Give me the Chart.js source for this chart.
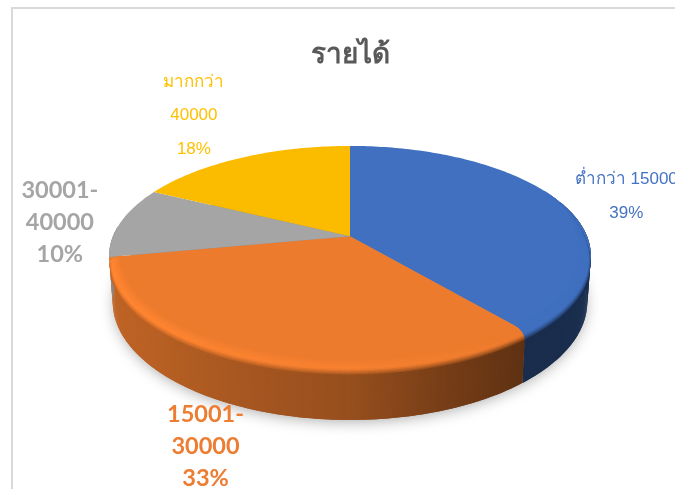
<!DOCTYPE html>
<html>
<head>
  <title>รายได้</title>
  <meta charset="utf-8">
  <script src="https://cdn.jsdelivr.net/npm/chart.js"></script>
  <style>
    html, body { margin: 0; padding: 0; background: #fff; overflow: hidden; }
    #frame { position: absolute; left: 11px; top: 7px; width: 700px; height: 500px; border-left: 2px solid #d9d9d9; border-top: 2px solid #d9d9d9; }
    #pie { position: absolute; left: 0; top: 0; }
  </style>
</head>
<body>
  <div id="frame"></div>
  <canvas id="pie" width="675" height="489"></canvas>

  <script>
    const categories = ['ต่ำกว่า 15000', '15001-30000', '30001-40000', 'มากกว่า 40000'];
    const values = [39, 33, 10.4, 17.6];
    const sliceColors = ['#4070BF', '#EC7B2E', '#A5A5A5', '#FBBC00'];
    const textColors = ['#4472C4', '#ED7D31', '#A5A5A5', '#FFC000'];
    const labelLines = [['ต่ำกว่า 15000'], ['15001-', '30000'], ['30001-', '40000'], ['มากกว่า', '40000']];

    // label placing, relative to the rim point at the middle of each slice
    const labelOffsets = [[66, -6], [-48, 90], [-61, 0], [-48, -42]];
    const labelBold = [false, true, true, false];

    // wall shading against clock angle
    const wallShade = [[90, 0.42], [140, 0.40], [160, 0.5], [180, 0.64], [225, 0.78], [270, 0.84]];
    const rimShade = [[90, 1.0], [140, 1.0], [180, 1.05], [230, 1.09], [270, 1.12]];

    const DEG = Math.PI / 180;
    const TILT = 0.178;      // perspective
    const STRETCH_X = 1.503; // pie is drawn wider than the chart's radius
    const STRETCH_Y = 0.675;
    const RIM_START = 0.95;
    const RIM_DROP = 7.4;
    const WALL_DROP = 44.5;

    function lookup(table, a) {
      if (a <= table[0][0]) return table[0][1];
      for (let i = 1; i < table.length; i++) {
        if (a <= table[i][0]) {
          const t = (a - table[i - 1][0]) / (table[i][0] - table[i - 1][0]);
          return table[i - 1][1] + t * (table[i][1] - table[i - 1][1]);
        }
      }
      return table[table.length - 1][1];
    }

    function shadeColor(hex, f) {
      const n = parseInt(hex.slice(1), 16);
      const c = [n >> 16, (n >> 8) & 255, n & 255].map(v => Math.min(255, Math.round(v * f)));
      return `rgb(${c[0]},${c[1]},${c[2]})`;
    }

    // a = clock angle in degrees, r = fraction of radius, z = px below top face
    function project(arc, a, r, z) {
      const X = r * Math.sin(a * DEG);
      const Y = -r * Math.cos(a * DEG);
      const w = 1 - TILT * Y;
      const R = arc.outerRadius;
      const narrow = 1 - 0.015 * z / WALL_DROP;
      return {
        x: arc.x + R * STRETCH_X * X / w * narrow,
        y: arc.y + (R * STRETCH_Y * Y + z) / w
      };
    }

    function quad(ctx, arc, a0, a1, r0, z0, r1, z1, color) {
      const p = [project(arc, a0, r0, z0), project(arc, a1, r0, z0), project(arc, a1, r1, z1), project(arc, a0, r1, z1)];
      ctx.fillStyle = color;
      ctx.beginPath();
      ctx.moveTo(p[0].x, p[0].y);
      for (let i = 1; i < 4; i++) ctx.lineTo(p[i].x, p[i].y);
      ctx.closePath();
      ctx.fill();
    }

    function clockRange(el) {
      return [(el.startAngle + Math.PI / 2) / DEG, (el.endAngle + Math.PI / 2) / DEG];
    }

    function rimFade(a) {
      const t = Math.max(0, Math.min(1, (a - 60) / 40));
      return t * t * (3 - 2 * t);
    }

    const pie3d = {
      id: 'pie3d',
      beforeDatasetsDraw(chart) {
        const ctx = chart.ctx;
        const arcs = chart.getDatasetMeta(0).data;
        const first = arcs[0];
        const step = 0.5;

        // soft shadow under the disc, the caster stays inside the wall
        ctx.save();
        ctx.shadowColor = 'rgba(0,0,0,0.36)';
        ctx.shadowBlur = 15;
        ctx.shadowOffsetY = 5;
        ctx.fillStyle = '#8a8a8a';
        ctx.beginPath();
        for (let a = 0; a < 360; a += 2) {
          const p = project(first, a, 0.99, WALL_DROP - 2);
          if (a === 0) ctx.moveTo(p.x, p.y); else ctx.lineTo(p.x, p.y);
        }
        ctx.closePath();
        ctx.fill();
        ctx.restore();

        // side wall, strips overlap so no seams show
        arcs.forEach((el, i) => {
          const [from, to] = clockRange(el);
          for (let a = from; a < to; a += step) {
            if (a < 70 || a > 275) continue;
            const end = Math.min(a + step * 2, to);
            quad(ctx, first, a, end, 1, 0, 1, WALL_DROP, shadeColor(sliceColors[i], lookup(wallShade, a)));
          }
        });

        // top face
        arcs.forEach((el, i) => {
          const [from, to] = clockRange(el);
          ctx.beginPath();
          const c = project(first, 0, 0, 0);
          ctx.moveTo(c.x, c.y);
          for (let a = from; a < to; a += 1) {
            const p = project(first, a, 1, 0);
            ctx.lineTo(p.x, p.y);
          }
          const e = project(first, to, 1, 0);
          ctx.lineTo(e.x, e.y);
          ctx.closePath();
          ctx.fillStyle = sliceColors[i];
          ctx.fill();
        });

        // rounded rim on the front part, stops where the grey slice starts
        const rings = 12;
        arcs.forEach((el, i) => {
          const [from, to] = clockRange(el);
          for (let a = from; a < to; a += step) {
            if (a < 60 || a > 259) continue;
            const end = Math.min(a + step * 2, to);
            const fade = rimFade(a);
            const wall = lookup(wallShade, a);
            const rim = lookup(rimShade, a);
            const span = 1 - RIM_START;
            // wall shade just under the rim
            quad(ctx, first, a, end, 1, RIM_DROP * fade, 1, (RIM_DROP + 3) * fade, shadeColor(sliceColors[i], 1 + (wall - 1) * fade));
            for (let k = rings - 1; k >= 0; k--) {
              const u0 = k / rings, uEnd = Math.min((k + 1.5) / rings, 1);
              const r0 = RIM_START + span * Math.sin(u0 * Math.PI / 2) * fade + span * (1 - fade);
              const r1 = RIM_START + span * Math.sin(uEnd * Math.PI / 2) * fade + span * (1 - fade);
              const z0 = RIM_DROP * (1 - Math.cos(u0 * Math.PI / 2)) * fade;
              const z1 = RIM_DROP * (1 - Math.cos(uEnd * Math.PI / 2)) * fade;
              const um = (k + 0.5) / rings;
              const s = um < 0.6 ? 1 + (rim - 1) * um / 0.6 : rim + (wall - rim) * (um - 0.6) / 0.4;
              quad(ctx, first, a, end, r0, z0, r1, z1, shadeColor(sliceColors[i], 1 + (s - 1) * fade));
            }
          }
        });

        // labels
        ctx.textAlign = 'center';
        ctx.textBaseline = 'middle';
        arcs.forEach((el, i) => {
          const [from, to] = clockRange(el);
          const mid = project(first, (from + to) / 2, 1, 0);
          const lines = labelLines[i].concat(Math.round(values[i]) + '%');
          const bold = labelBold[i];
          const gap = bold ? 32 : 33.5;
          ctx.font = bold ? 'bold 23.5px Lato, "Noto Sans", sans-serif' : '17px "Liberation Sans", "Noto Sans", sans-serif';
          ctx.fillStyle = textColors[i];
          const cx = mid.x + labelOffsets[i][0];
          const cy = mid.y + labelOffsets[i][1];
          lines.forEach((t, k) => {
            ctx.fillText(t, cx, cy + (k - (lines.length - 1) / 2) * gap);
          });
        });

        return false;
      }
    };

    new Chart(document.getElementById('pie'), {
      type: 'pie',
      data: {
        labels: categories,
        datasets: [{ data: values, backgroundColor: sliceColors, borderWidth: 0 }]
      },
      options: {
        responsive: false,
        animation: false,
        layout: { padding: { left: 25, bottom: 95 } },
        plugins: {
          legend: { display: false },
          tooltip: { enabled: false },
          title: {
            display: true,
            text: 'รายได้',
            fullSize: false,
            color: '#595959',
            font: { size: 28, weight: 'bold', family: '"Noto Sans", "Liberation Sans", sans-serif' },
            padding: { top: 38, bottom: 7 }
          }
        }
      },
      plugins: [pie3d]
    });
  </script>
</body>
</html>
